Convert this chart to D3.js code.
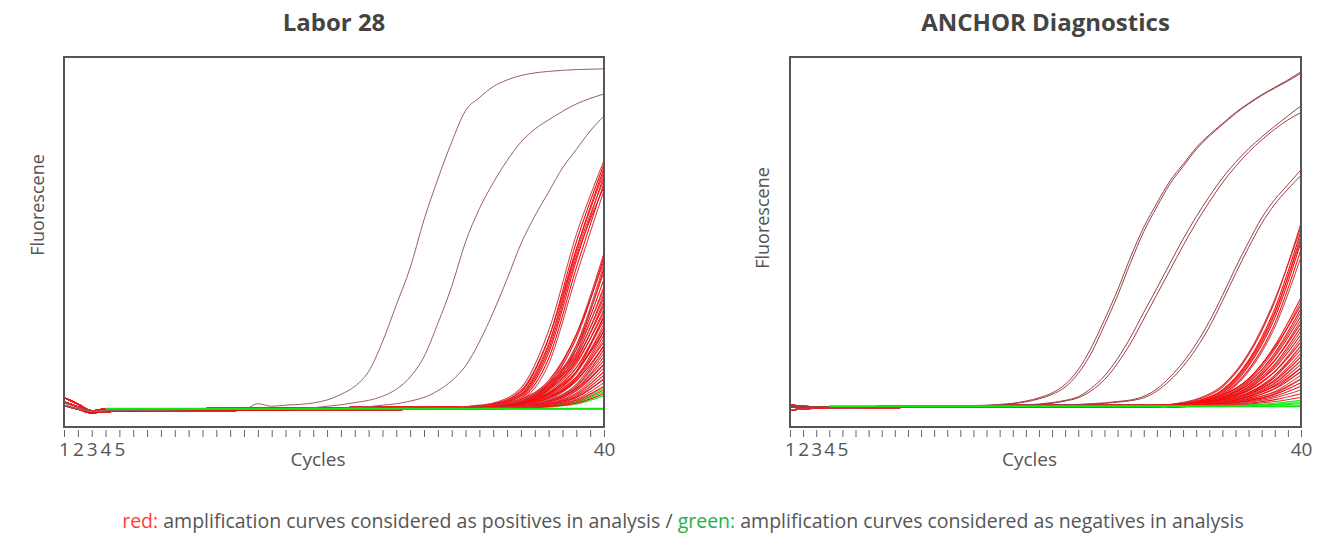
<!DOCTYPE html>
<html>
<head>
<meta charset="utf-8">
<script src="https://cdn.jsdelivr.net/npm/d3@7"></script>
<style>
  body { margin: 0; background: #fff; }
  svg text { font-family: "Open Sans", "Noto Sans", sans-serif; }
</style>
</head>
<body>
<div id="chart"></div>
<script>
// ---- data (fluorescence, arbitrary units 0-100) ----
var tickCycles = d3.range(1, 41);
var labelCycles = [1, 2, 3, 4, 5, 40];
var lateCycles = [30, 32, 34, 36, 38, 40];

// shared early baselines (cycles 1..29)
var baseL1 = [8.0, 6.2, 4.4, 4.9, 5.0, 4.9, 4.9, 5.0, 5.0, 5.0, 5.0, 5.1, 5.1, 5.1, 5.1, 5.1, 5.2, 5.2, 5.2, 5.2, 5.2, 5.3, 5.3, 5.3, 5.3, 5.3, 5.3, 5.4, 5.4];
var baseL2 = [6.8, 5.5, 4.2, 4.5, 4.6, 4.6, 4.6, 4.6, 4.7, 4.7, 4.7, 4.7, 4.8, 4.8, 4.8, 4.8, 4.8, 4.9, 4.9, 4.9, 4.9, 4.9, 5.0, 5.0, 5.0, 5.0, 5.0, 5.1, 5.1];
var baseL3 = [5.8, 4.8, 3.8, 4.1, 4.3, 4.2, 4.3, 4.3, 4.3, 4.4, 4.4, 4.4, 4.4, 4.5, 4.5, 4.5, 4.5, 4.6, 4.6, 4.6, 4.6, 4.7, 4.7, 4.7, 4.7, 4.8, 4.8, 4.8, 4.8];
var baseR1 = [6.0, 5.6, 5.5, 5.5, 5.4, 5.5, 5.5, 5.6, 5.6, 5.6, 5.7, 5.7, 5.7, 5.8, 5.8, 5.8, 5.8, 5.9, 5.9, 5.9, 5.9, 6.0, 6.0, 6.0, 6.0, 6.0, 6.1, 6.1, 6.1];
var baseR2 = [4.6, 4.9, 5.0, 5.1, 5.1, 5.1, 5.2, 5.2, 5.2, 5.3, 5.3, 5.3, 5.4, 5.4, 5.4, 5.5, 5.5, 5.5, 5.5, 5.5, 5.5, 5.5, 5.5, 5.5, 5.5, 5.5, 5.5, 5.5, 5.5];
var baseR3 = [5.3, 5.2, 5.1, 5.2, 5.2, 5.3, 5.3, 5.3, 5.4, 5.4, 5.4, 5.5, 5.5, 5.5, 5.6, 5.6, 5.6, 5.6, 5.6, 5.7, 5.7, 5.7, 5.7, 5.7, 5.7, 5.7, 5.7, 5.7, 5.7];

// Labor 28: early full curves (cycles 1..40)
var labEarly = [
  [6.5, 5.2, 4.2, 4.4, 4.5, 4.6, 4.6, 4.6, 4.7, 4.7, 4.7, 4.8, 4.8, 4.8, 6.3, 5.6, 5.9, 6.1, 6.5, 7.3, 8.8, 11, 15, 23, 33, 43, 56, 67, 77, 85.5, 89, 92, 93.8, 95, 95.7, 96.1, 96.4, 96.6, 96.7, 96.8],
  [6.0, 5.0, 4.3, 4.5, 4.6, 4.6, 4.7, 4.7, 4.7, 4.7, 4.8, 4.8, 4.8, 4.8, 4.9, 4.9, 4.9, 5.0, 5.2, 5.6, 6.0, 6.6, 7.2, 8.3, 10.2, 13.5, 19, 28, 38, 50, 59, 66, 72, 77, 80.5, 83, 85.3, 87.3, 88.8, 90],
  [5.9, 4.9, 4.2, 4.4, 4.5, 4.5, 4.6, 4.6, 4.6, 4.7, 4.7, 4.7, 4.7, 4.8, 4.8, 4.8, 4.8, 4.9, 4.9, 4.9, 5.0, 5.2, 5.5, 5.9, 6.3, 7.0, 8.0, 9.8, 12.5, 16.5, 23, 31, 40, 49.5, 57, 63.5, 70, 75, 80, 84]
];
// Labor 28: late positive curves, values at lateCycles
var labLate = [
  [5.4, 6.2, 9.5, 24, 50, 71], [5.3, 6.0, 8.8, 22, 48, 70], [5.5, 6.5, 10.5, 26, 52, 72],
  [5.3, 5.9, 8.2, 20, 45, 68], [5.4, 6.1, 9.0, 22.5, 47, 67], [5.2, 5.8, 7.8, 18.5, 43, 66],
  [5.3, 6.0, 8.5, 21, 46, 65], [5.2, 5.7, 7.4, 17, 41, 64], [5.4, 6.3, 9.8, 24, 48, 69],
  [5.2, 5.6, 7.2, 12, 25, 47], [5.1, 5.5, 6.9, 11.5, 24, 46], [5.2, 5.7, 7.5, 12.5, 25, 45],
  [5.1, 5.4, 6.6, 10.5, 22, 44], [5.0, 5.4, 6.5, 10, 21, 43], [5.1, 5.5, 6.8, 11, 22, 42],
  [5.3, 5.7, 7.0, 11.5, 21, 40], [5.2, 5.6, 6.8, 11, 20, 38], [5.3, 5.8, 7.2, 12, 21, 37],
  [5.2, 5.5, 6.6, 10.5, 19, 36], [5.2, 5.6, 6.9, 11, 19.5, 35], [5.1, 5.5, 6.5, 10, 18, 34],
  [5.2, 5.6, 6.7, 10.5, 18.5, 33], [5.1, 5.4, 6.3, 9.5, 17, 32], [5.2, 5.5, 6.5, 10, 17.5, 31],
  [5.1, 5.4, 6.2, 9, 16, 30], [5.0, 5.3, 6.0, 8.5, 15, 30], [5.1, 5.4, 6.3, 9.2, 16, 29],
  [5.0, 5.3, 6.0, 8.4, 14.5, 28], [5.1, 5.4, 6.2, 8.8, 15, 27], [5.0, 5.3, 5.9, 8, 13.5, 26],
  [5.1, 5.5, 6.4, 9, 15, 26], [5.0, 5.3, 5.9, 7.8, 13, 25], [5.0, 5.2, 5.8, 7.5, 12.5, 24],
  [5.1, 5.4, 6.1, 8.2, 13.5, 23], [5.0, 5.2, 5.7, 7.2, 11.5, 22], [5.0, 5.3, 5.9, 7.8, 12.5, 22],
  [4.9, 5.1, 5.6, 7, 11, 21], [5.0, 5.2, 5.7, 7.2, 11, 20], [4.9, 5.1, 5.5, 6.8, 10.5, 19],
  [5.0, 5.2, 5.7, 7, 10.5, 18], [4.9, 5.1, 5.5, 6.6, 9.8, 17], [5.0, 5.2, 5.6, 6.9, 10.2, 17],
  [4.9, 5.1, 5.4, 6.4, 9.2, 16], [4.9, 5.0, 5.4, 6.3, 8.8, 15], [4.9, 5.1, 5.4, 6.2, 8.4, 14],
  [4.8, 5.0, 5.3, 6.0, 7.9, 13], [4.9, 5.1, 5.4, 6.2, 8.1, 13], [4.8, 5.0, 5.3, 5.9, 7.5, 12],
  [4.8, 5.0, 5.2, 5.8, 7.2, 11], [4.8, 4.9, 5.1, 5.6, 6.8, 10], [4.8, 4.9, 5.1, 5.5, 6.4, 9]
];
var labNeg = [
  [5.0, 5.1, 5.3, 5.8, 7.0, 10.5], [5.0, 5.1, 5.2, 5.6, 6.6, 9.5], [4.9, 5.0, 5.1, 5.4, 6.2, 8.5],
  [4.9, 4.9, 4.9, 4.9, 4.9, 4.9]
];
var labNegLevel = 4.9;

// ANCHOR Diagnostics: early full curves (cycles 1..40)
var ancEarly = [
  [5.8, 5.5, 5.4, 5.4, 5.4, 5.4, 5.5, 5.5, 5.5, 5.5, 5.6, 5.6, 5.6, 5.7, 5.8, 5.9, 6.1, 6.4, 7.0, 7.9, 9.2, 11.5, 15.5, 21.5, 29, 37, 46, 54, 60.5, 66.5, 71, 75.5, 79, 82, 85, 87.5, 89.8, 91.8, 93.8, 96],
  [5.6, 5.4, 5.3, 5.3, 5.4, 5.4, 5.4, 5.5, 5.5, 5.5, 5.5, 5.6, 5.6, 5.7, 5.7, 5.8, 6.0, 6.3, 6.8, 7.6, 8.8, 10.8, 14.5, 20, 27.5, 35.5, 44.5, 52.8, 59.5, 65.7, 70.4, 75, 78.6, 81.7, 84.7, 87.3, 89.6, 91.6, 93.5, 95.6],
  [5.5, 5.4, 5.3, 5.4, 5.4, 5.4, 5.5, 5.5, 5.5, 5.5, 5.6, 5.6, 5.6, 5.6, 5.7, 5.7, 5.8, 5.9, 6.0, 6.2, 6.6, 7.2, 8.2, 10.5, 13.8, 18.5, 24.3, 31, 37.5, 44.2, 50.8, 56.8, 62.3, 67.3, 71.5, 75.2, 78.4, 81.3, 84.1, 86.8],
  [5.4, 5.3, 5.3, 5.3, 5.4, 5.4, 5.4, 5.4, 5.5, 5.5, 5.5, 5.5, 5.6, 5.6, 5.6, 5.7, 5.7, 5.8, 5.9, 6.1, 6.4, 7.0, 7.9, 9.8, 12.8, 17.2, 22.7, 29.2, 35.8, 42.4, 49, 55.2, 60.8, 66, 70.4, 74.3, 77.6, 80.5, 83, 85],
  [5.5, 5.4, 5.3, 5.4, 5.4, 5.4, 5.4, 5.5, 5.5, 5.5, 5.5, 5.6, 5.6, 5.6, 5.6, 5.7, 5.7, 5.7, 5.8, 5.8, 5.9, 6.0, 6.1, 6.3, 6.5, 6.9, 7.3, 8.3, 10.3, 13.5, 17.5, 22.5, 28.5, 35.5, 43, 50, 56.5, 61.5, 65.5, 69.5],
  [5.4, 5.3, 5.2, 5.3, 5.3, 5.4, 5.4, 5.4, 5.4, 5.5, 5.5, 5.5, 5.5, 5.6, 5.6, 5.6, 5.6, 5.7, 5.7, 5.7, 5.8, 5.9, 6.0, 6.2, 6.4, 6.7, 7.1, 7.9, 9.7, 12.6, 16.4, 21.2, 27, 34, 41.4, 48.5, 55, 60.2, 64.3, 68]
];
var ancLate = [
  [5.9, 7.0, 10, 18, 32, 53], [6.0, 7.3, 10.8, 19.5, 34, 55], [5.8, 6.8, 9.5, 17, 30.5, 52],
  [5.9, 6.9, 9.8, 17.5, 31, 51], [6.1, 7.5, 11.2, 20, 34.5, 54], [5.8, 6.7, 9.2, 16.5, 29.5, 50],
  [5.7, 6.5, 8.8, 15.5, 28, 48], [5.7, 6.4, 8.5, 15, 27, 46],
  [5.9, 6.6, 8.5, 13, 22, 35], [5.8, 6.4, 8.2, 12.5, 21, 34], [6.0, 6.7, 8.6, 13, 21.5, 33],
  [5.8, 6.4, 8.0, 12, 20, 32], [5.9, 6.5, 8.2, 12.2, 19.5, 31], [5.8, 6.3, 7.8, 11.5, 19, 30],
  [5.7, 6.2, 7.6, 11, 18, 29], [5.9, 6.5, 8.0, 11.5, 18, 28], [5.8, 6.3, 7.6, 10.8, 17, 27],
  [5.7, 6.2, 7.4, 10.3, 16.5, 26], [5.8, 6.3, 7.5, 10.5, 16, 25], [5.7, 6.1, 7.2, 9.8, 15, 24],
  [5.8, 6.3, 7.4, 10, 15, 23], [5.7, 6.1, 7.0, 9.3, 14, 22], [5.6, 6.0, 6.9, 9, 13.5, 22],
  [5.7, 6.1, 7.0, 9.2, 13.5, 21], [5.6, 6.0, 6.8, 8.8, 12.8, 20], [5.7, 6.1, 6.9, 8.8, 12.5, 19],
  [5.6, 5.9, 6.6, 8.3, 11.8, 18], [5.7, 6.1, 6.8, 8.6, 12, 18], [5.6, 5.9, 6.6, 8.2, 11.3, 17],
  [5.5, 5.8, 6.4, 7.8, 10.5, 16], [5.7, 6.0, 6.7, 8.2, 11, 16], [5.6, 5.9, 6.5, 7.8, 10.3, 15],
  [5.5, 5.8, 6.3, 7.4, 9.6, 14], [5.6, 5.9, 6.4, 7.5, 9.4, 13], [5.5, 5.7, 6.2, 7.2, 9, 13],
  [5.5, 5.8, 6.2, 7.1, 8.8, 12], [5.5, 5.7, 6.1, 6.9, 8.3, 11], [5.5, 5.7, 6.0, 6.7, 7.9, 10],
  [5.4, 5.6, 5.9, 6.4, 7.4, 9], [5.4, 5.6, 5.8, 6.2, 6.9, 8]
];
var ancNeg = [
  [5.5, 5.6, 5.8, 6.0, 6.4, 7.2], [5.4, 5.5, 5.6, 5.8, 6.1, 6.6], [5.6, 5.7, 5.8, 5.9, 6.0, 6.2]
];
var ancNegLevel = 5.6;

var titles = ["Labor 28", "ANCHOR Diagnostics"];

// ---- layout ----
var W = 1338, H = 536;
var svg = d3.select("#chart").append("svg").attr("width", W).attr("height", H);

var panels = [
  { title: titles[0], x0: 64, x1: 604, early: labEarly, late: labLate, neg: labNeg, negLevel: labNegLevel,
    bases: [baseL1, baseL2, baseL3], earlyColor: "#9e5e64", yLabelX: 44, yLabelY: 205 },
  { title: titles[1], x0: 790, x1: 1301, early: ancEarly, late: ancLate, neg: ancNeg, negLevel: ancNegLevel,
    bases: [baseR1, baseR2, baseR3], earlyColor: "#9a3f46", yLabelX: 769, yLabelY: 218 }
];
var plotTop = 57, plotBottom = 427;
var redPalette = ["#ff0000", "#e8161c", "#c24a52", "#ff1010", "#d0343a"];
var greenColor = "#12e812";

var y = d3.scaleLinear().domain([0, 100]).range([plotBottom, plotTop]);

function latePoints(base, vals) {
  var pts = base.map(function(v, i) { return [i + 1, v]; });
  lateCycles.forEach(function(c, j) { pts.push([c, vals[j]]); });
  return pts;
}

panels.forEach(function(p, pi) {
  var x = d3.scaleLinear().domain([1, 40]).range([p.x0, p.x1]);
  var line = d3.line()
    .x(function(d) { return x(d[0]); })
    .y(function(d) { return y(d[1]); })
    .curve(d3.curveMonotoneX);

  svg.append("clipPath").attr("id", "clip" + pi)
    .append("rect").attr("x", p.x0).attr("y", plotTop)
    .attr("width", p.x1 - p.x0).attr("height", plotBottom - plotTop);

  var g = svg.append("g").attr("clip-path", "url(#clip" + pi + ")");

  // negatives (green)
  p.neg.forEach(function(vals, i) {
    g.append("path")
      .attr("d", line(latePoints(p.bases[(i + 1) % 3], vals)))
      .attr("fill", "none")
      .attr("stroke", greenColor)
      .attr("stroke-width", 1.1);
  });

  // late positives
  p.late.forEach(function(vals, i) {
    g.append("path")
      .attr("d", line(latePoints(p.bases[i % 3], vals)))
      .attr("fill", "none")
      .attr("stroke", redPalette[i % redPalette.length])
      .attr("stroke-width", 1.05);
  });

  // early positives
  p.early.forEach(function(vals) {
    g.append("path")
      .attr("d", line(vals.map(function(v, i) { return [i + 1, v]; })))
      .attr("fill", "none")
      .attr("stroke", p.earlyColor)
      .attr("stroke-width", 1);
  });

  // flat negative on top
  g.append("path")
    .attr("d", line(tickCycles.slice(3).map(function(c) { return [c, p.negLevel]; })))
    .attr("fill", "none")
    .attr("stroke", greenColor)
    .attr("stroke-width", 2);

  // frame
  svg.append("rect")
    .attr("x", p.x0).attr("y", plotTop)
    .attr("width", p.x1 - p.x0).attr("height", plotBottom - plotTop)
    .attr("fill", "none").attr("stroke", "#555").attr("stroke-width", 2);

  // axis
  var axis = d3.axisBottom(x)
    .tickValues(tickCycles)
    .tickSize(7)
    .tickPadding(6)
    .tickFormat(function(d) { return labelCycles.indexOf(d) >= 0 ? d : ""; });
  var ag = svg.append("g").attr("transform", "translate(0," + (plotBottom + 3) + ")").call(axis);
  ag.select(".domain").remove();
  ag.selectAll(".tick line").attr("stroke", "#666");
  ag.selectAll(".tick text").attr("fill", "#555").attr("font-size", 19)
    .attr("font-family", "Open Sans, sans-serif");

  svg.append("text")
    .attr("x", (p.x0 + p.x1) / 2 - 16).attr("y", 466)
    .attr("text-anchor", "middle").attr("font-size", 19).attr("fill", "#555")
    .text("Cycles");

  svg.append("text")
    .attr("transform", "translate(" + p.yLabelX + "," + p.yLabelY + ") rotate(-90)")
    .attr("text-anchor", "middle").attr("font-size", 18).attr("fill", "#555")
    .text("Fluorescene");

  svg.append("text")
    .attr("x", (p.x0 + p.x1) / 2).attr("y", 31)
    .attr("text-anchor", "middle").attr("font-size", 24).attr("font-weight", "bold")
    .attr("fill", "#444")
    .text(p.title);
});

// legend note
var note = svg.append("text")
  .attr("x", 683).attr("y", 528)
  .attr("text-anchor", "middle").attr("font-size", 19.5).attr("fill", "#555");
note.append("tspan").attr("fill", "#ff3b3b").text("red:");
note.append("tspan").text(" amplification curves considered as positives in analysis / ");
note.append("tspan").attr("fill", "#1fb34a").text("green:");
note.append("tspan").text(" amplification curves considered as negatives in analysis");
</script>
</body>
</html>
